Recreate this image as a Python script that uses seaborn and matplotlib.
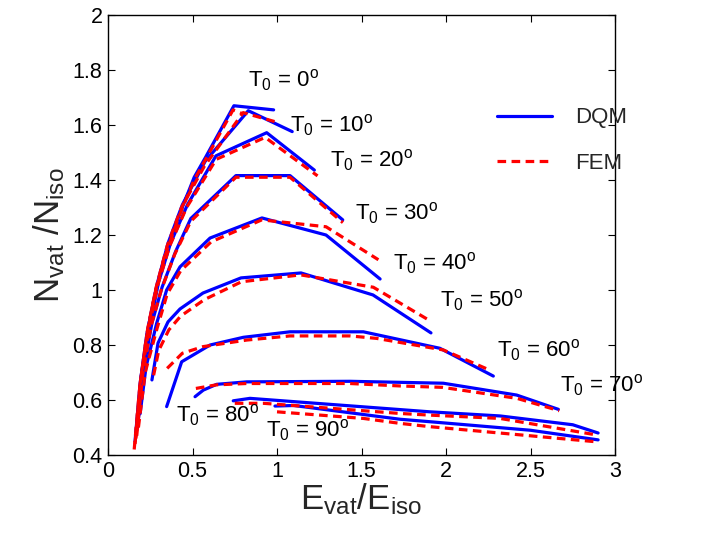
import numpy as np
import pandas as pd
import matplotlib
matplotlib.use("Agg")
import matplotlib.pyplot as plt
from matplotlib.lines import Line2D
import seaborn as sns

# ---------------- data ----------------
T0_values = [0, 10, 20, 30, 40, 50, 60, 70, 80, 90]

dqm_x = {
    0:  [0.16, 0.19, 0.23, 0.28, 0.34, 0.42, 0.51, 0.575, 0.745, 0.98],
    10: [0.165, 0.195, 0.24, 0.29, 0.355, 0.44, 0.574, 0.83, 1.09],
    20: [0.17, 0.20, 0.25, 0.30, 0.37, 0.47, 0.639, 0.939, 1.221],
    30: [0.175, 0.21, 0.26, 0.32, 0.40, 0.49, 0.757, 1.077, 1.389],
    40: [0.19, 0.225, 0.288, 0.347, 0.426, 0.604, 0.911, 1.29, 1.61],
    50: [0.26, 0.296, 0.355, 0.426, 0.562, 0.787, 1.142, 1.568, 1.911],
    60: [0.347, 0.436, 0.604, 0.801, 1.077, 1.511, 1.964, 2.28],
    70: [0.515, 0.564, 0.643, 0.821, 1.432, 1.984, 2.418, 2.665],
    80: [0.741, 0.84, 1.905, 2.32, 2.75, 2.90],
    90: [0.988, 1.10, 1.728, 1.905, 2.50, 2.90],
}
dqm_y = {
    0:  [0.45, 0.66, 0.84, 0.99, 1.13, 1.27, 1.41, 1.48, 1.67, 1.655],
    10: [0.47, 0.68, 0.87, 1.02, 1.17, 1.31, 1.467, 1.652, 1.576],
    20: [0.49, 0.70, 0.88, 1.03, 1.17, 1.31, 1.488, 1.572, 1.436],
    30: [0.50, 0.71, 0.88, 1.01, 1.14, 1.26, 1.416, 1.416, 1.255],
    40: [0.55, 0.72, 0.879, 1.00, 1.084, 1.189, 1.262, 1.20, 1.04],
    50: [0.673, 0.807, 0.884, 0.931, 0.989, 1.044, 1.062, 0.982, 0.844],
    60: [0.576, 0.739, 0.800, 0.828, 0.848, 0.848, 0.788, 0.687],
    70: [0.612, 0.636, 0.657, 0.666, 0.668, 0.661, 0.618, 0.566],
    80: [0.597, 0.606, 0.557, 0.542, 0.510, 0.480],
    90: [0.578, 0.580, 0.530, 0.521, 0.490, 0.455],
}
fem_x = {
    0:  [0.155, 0.185, 0.225, 0.275, 0.335, 0.415, 0.51, 0.74, 0.80],
    10: [0.16, 0.19, 0.235, 0.285, 0.35, 0.435, 0.57, 0.80, 1.00],
    20: [0.165, 0.195, 0.245, 0.295, 0.365, 0.465, 0.64, 0.93, 1.24],
    30: [0.17, 0.205, 0.255, 0.315, 0.395, 0.49, 0.757, 1.077, 1.39],
    40: [0.18, 0.22, 0.29, 0.35, 0.43, 0.61, 0.91, 1.29, 1.60],
    50: [0.27, 0.30, 0.36, 0.43, 0.57, 0.79, 1.14, 1.57, 1.90],
    60: [0.35, 0.44, 0.562, 0.821, 1.077, 1.432, 1.59, 1.984, 2.25],
    70: [0.52, 0.64, 0.82, 1.43, 1.73, 1.98, 2.42, 2.67],
    80: [0.75, 0.92, 1.73, 1.905, 2.32, 2.89],
    90: [1.00, 1.511, 1.728, 1.905, 2.89],
}
fem_y = {
    0:  [0.42, 0.63, 0.82, 0.98, 1.12, 1.26, 1.40, 1.655, 1.64],
    10: [0.44, 0.66, 0.86, 1.01, 1.16, 1.30, 1.45, 1.645, 1.61],
    20: [0.46, 0.68, 0.87, 1.02, 1.16, 1.30, 1.475, 1.555, 1.415],
    30: [0.47, 0.69, 0.87, 1.00, 1.13, 1.25, 1.41, 1.41, 1.245],
    40: [0.50, 0.70, 0.86, 0.985, 1.07, 1.175, 1.255, 1.23, 1.11],
    50: [0.69, 0.78, 0.855, 0.905, 0.965, 1.03, 1.055, 1.01, 0.89],
    60: [0.715, 0.77, 0.794, 0.818, 0.833, 0.833, 0.824, 0.782, 0.711],
    70: [0.642, 0.655, 0.660, 0.660, 0.651, 0.646, 0.606, 0.561],
    80: [0.588, 0.588, 0.551, 0.545, 0.533, 0.473],
    90: [0.557, 0.533, 0.515, 0.503, 0.448],
}

label_x = [0.83, 1.077, 1.314, 1.46, 1.686, 1.964, 2.30, 2.675, 0.40, 0.935]
label_y = [1.764, 1.60, 1.473, 1.28, 1.098, 0.964, 0.782, 0.655, 0.545, 0.49]

x_ticks = [0, 0.5, 1, 1.5, 2, 2.5, 3]
y_ticks = [0.4, 0.6, 0.8, 1, 1.2, 1.4, 1.6, 1.8, 2]

# ---------------- build tables ----------------
def to_frame(xd, yd, method):
    rows = []
    for t in T0_values:
        for i, (xv, yv) in enumerate(zip(xd[t], yd[t])):
            rows.append({"x": xv, "y": yv, "T0": t, "order": i, "method": method})
    return pd.DataFrame(rows)

df_dqm = to_frame(dqm_x, dqm_y, "DQM")
df_fem = to_frame(fem_x, fem_y, "FEM")

# ---------------- style ----------------
sns.set_theme(style="ticks")
plt.rcParams["font.family"] = ["Liberation Sans", "DejaVu Sans"]
plt.rcParams["mathtext.fontset"] = "custom"
plt.rcParams["mathtext.rm"] = "Liberation Sans"
plt.rcParams["mathtext.it"] = "Liberation Sans:italic"
plt.rcParams["mathtext.bf"] = "Liberation Sans:bold"

fig = plt.figure(figsize=(7.01, 5.38), dpi=100)
ax = fig.add_axes([108 / 701, 1 - 455 / 538, (615 - 108) / 701, (455 - 15) / 538])

lw = 2.3
sns.lineplot(data=df_dqm, x="x", y="y", units="T0", estimator=None, sort=False,
             color="#0000ff", linewidth=lw, ax=ax, legend=False)
n_before = len(ax.lines)
sns.lineplot(data=df_fem, x="x", y="y", units="T0", estimator=None, sort=False,
             color="#ff0000", linewidth=lw, ax=ax, legend=False)
for ln in ax.lines[n_before:]:
    ln.set_dashes([2.7, 1.7])

for t, lx, ly in zip(T0_values, label_x, label_y):
    ax.text(lx, ly, r"T$_0$ = %d$^{\mathrm{o}}$" % t, fontsize=16,
            ha="left", va="center", color="black")

ax.set_xlim(0, 3)
ax.set_ylim(0.4, 2)
ax.set_xticks(x_ticks)
ax.set_xticklabels(["0", "0.5", "1", "1.5", "2", "2.5", "3"])
ax.set_yticks(y_ticks)
ax.set_yticklabels(["0.4", "0.6", "0.8", "1", "1.2", "1.4", "1.6", "1.8", "2"])
ax.tick_params(direction="in", length=5, width=0.8, labelsize=15.5,
               top=True, right=True, colors="black", pad=4)
for sp in ax.spines.values():
    sp.set_visible(True)
    sp.set_linewidth(1.0)
    sp.set_color("black")

ax.set_xlabel(r"E$_{\mathrm{vat}}$/E$_{\mathrm{iso}}$", fontsize=25, labelpad=0)
ax.set_ylabel(r"N$_{\mathrm{vat}}$ /N$_{\mathrm{iso}}$", fontsize=25, labelpad=4)

handles = [Line2D([], [], color="#0000ff", lw=lw),
           Line2D([], [], color="#ff0000", lw=lw, dashes=[2.7, 1.7])]
ax.legend(handles, ["DQM", "FEM"], frameon=False, fontsize=16,
          loc="upper left", bbox_to_anchor=(0.767, 0.79), borderaxespad=0,
          handlelength=2.5, handletextpad=1.0, labelspacing=1.1, borderpad=0)

fig.savefig("out.png", dpi=100)
